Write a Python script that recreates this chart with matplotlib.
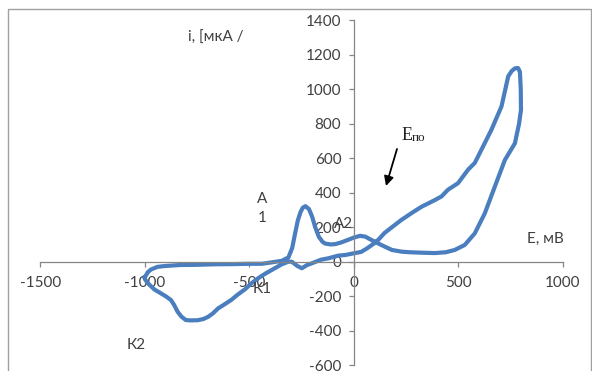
import numpy as np
import matplotlib
matplotlib.use('agg')
import matplotlib.pyplot as plt
from matplotlib.patches import Rectangle

# potential (mV) and current (uA), in scan order
E_mv = [-1000, -985, -970, -940, -905, -830, -750, -670, -580, -505, -440, -400,
        -345, -313, -295, -281, -268, -256, -245, -232, -215, -200, -185, -168,
        -150, -137, -110, -89, -60, -25, 0, 30, 55, 84, 131, 182, 230, 264, 330,
        388, 440, 482, 530, 578, 626, 674, 722, 770, 790, 799, 798, 794, 785, 770,
        755, 738, 706, 658, 610, 578, 546, 498, 450, 419, 387, 323, 280, 227, 182,
        146, 119, 98, 60, 35, -41, -76, -121, -156, -201, -225, -249, -270, -297,
        -313, -345, -393, -425, -457, -490, -521, -555, -585, -620, -649, -675,
        -697, -720, -747, -780, -804, -825, -843, -860, -875, -900, -922, -955,
        -985, -1000, -1000]
i_ua = [-90, -60, -45, -30, -25, -19, -18, -15, -14, -12, -12, -5,
        5, 25, 80, 165, 240, 285, 312, 322, 305, 262, 200, 145,
        115, 105, 100, 102, 112, 128, 140, 150, 145, 126, 97, 68, 58, 55, 52,
        50, 55, 68, 97, 164, 280, 435, 589, 686, 800, 879, 1000, 1100, 1122, 1120,
        1105, 1074, 900, 765, 649, 572, 533, 455, 417, 378, 357, 318, 285, 242, 200,
        166, 130, 107, 75, 57, 39, 35, 20, 12, -9, -20, -38, -25, 0,
        0, -15, -48, -70, -95, -125, -160, -190, -220, -248, -270, -300,
        -319, -332, -339, -340, -338, -318, -290, -250, -222, -200, -184, -160,
        -125, -100, -90]

x_ticks = [-1500, -1000, -500, 0, 500, 1000]
y_ticks = [-600, -400, -200, 0, 200, 400, 600, 800, 1000, 1200, 1400]

gray = '#868686'
txt = '#404040'
plt.rcParams['font.family'] = ['Lato', 'DejaVu Sans']
plt.rcParams['axes.unicode_minus'] = False

fig = plt.figure(figsize=(5.92, 3.71), dpi=100)
ax = fig.add_axes([0.068, 0.0154, 0.883, 0.9306])
ax.plot(E_mv, i_ua, color='#4A7EBF', lw=3.0, solid_joinstyle='round')

ax.set_xlim(-1500, 1000)
ax.set_ylim(-600, 1400)
ax.set_xticks(x_ticks)
ax.set_yticks(y_ticks)
ax.spines['left'].set_position(('data', 0))
ax.spines['bottom'].set_position(('data', 0))
ax.spines['top'].set_visible(False)
ax.spines['right'].set_visible(False)
for s in ['left', 'bottom']:
    ax.spines[s].set_color(gray)
    ax.spines[s].set_linewidth(0.9)
ax.tick_params(axis='both', direction='out', length=3.6, width=0.9, color=gray,
               labelsize=11, labelcolor=txt)
ax.tick_params(axis='x', pad=7)
ax.tick_params(axis='y', pad=5.5)
ax.patch.set_visible(False)

ax.text(-794, 1296, 'i, [мкА /', fontsize=11, color=txt, ha='left', va='center')
ax.text(826, 131, 'E, мВ', fontsize=11, color=txt, ha='left', va='center')
ax.text(-440, 307, 'А\n1', fontsize=11, color=txt, ha='center', va='center',
        linespacing=1.45)
ax.text(-94, 221, 'А2', fontsize=11, color=txt, ha='left', va='center')
ax.text(-483, -158, 'К1', fontsize=11, color=txt, ha='left', va='center')
ax.text(-1087, -482, 'К2', fontsize=11, color=txt, ha='left', va='center')

# E_po label with arrow
fig.text(402 / 592, 1 - 140 / 371, 'E', fontsize=13, family='Liberation Serif',
         color='#222222', ha='left', va='baseline')
fig.text(411.5 / 592, 1 - 141 / 371, 'по', fontsize=9.5, family='Liberation Serif',
         color='#222222', ha='left', va='baseline')
ax.annotate('', xy=(386 / 592, 1 - 186 / 371), xytext=(397 / 592, 1 - 149 / 371),
            xycoords='figure fraction', textcoords='figure fraction',
            arrowprops=dict(arrowstyle='-|>', color='black', lw=1.3,
                            mutation_scale=14, shrinkA=0, shrinkB=0))

fig.patches.append(Rectangle((7.7 / 592, -0.05), (591 - 7.7) / 592, 1.05 - 9.3 / 371,
                             transform=fig.transFigure, fill=False,
                             edgecolor='#a0a0a0', lw=1.0))

fig.savefig('out.png', dpi=100)
